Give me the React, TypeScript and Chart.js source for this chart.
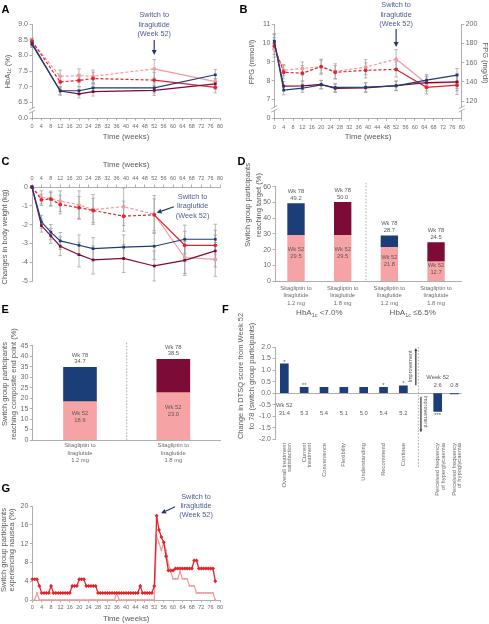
import React, { useEffect, useRef } from 'react';
import { Chart, registerables } from 'chart.js';

Chart.register(...registerables);

// ---------------- data ----------------
// A: HbA1c (%)
const weeksA = [0, 12, 20, 26, 52, 78];
const hbaLira12 = [8.35, 6.87, 6.87, 6.96, 6.96, 7.38];
const hbaLira18 = [8.38, 6.86, 6.77, 6.84, 6.88, 7.09];
const hbaSita12 = [8.45, 7.15, 7.2, 7.26, 7.21, 6.98];
const hbaSita18 = [8.43, 7.33, 7.35, 7.33, 7.57, 7.16];
const hbaErrLira12 = [0.1, 0.13, 0.13, 0.14, 0.16, 0.17];
const hbaErrLira18 = [0.1, 0.13, 0.13, 0.14, 0.16, 0.17];
const hbaErrSita12 = [0.1, 0.2, 0.2, 0.2, 0.25, 0.18];
const hbaErrSita18 = [0.1, 0.2, 0.22, 0.2, 0.3, 0.2];

// B: FPG (mmol/l)
const weeksB = [0, 4, 12, 20, 26, 39, 52, 65, 78];
const fpgLira12 = [10.1, 7.5, 7.6, 7.78, 7.64, 7.66, 7.72, 8.03, 8.3];
const fpgLira18 = [10.05, 7.71, 7.73, 7.8, 7.59, 7.62, 7.74, 7.9, 7.94];
const fpgSita12 = [9.85, 8.45, 8.4, 8.75, 8.45, 8.55, 8.6, 7.65, 7.76];
const fpgSita18 = [9.7, 8.56, 8.65, 8.74, 8.5, 8.72, 9.15, 7.85, 7.92];
const fpgErrLira12 = [0.4, 0.25, 0.22, 0.22, 0.22, 0.25, 0.25, 0.3, 0.35];
const fpgErrLira18 = [0.4, 0.25, 0.22, 0.22, 0.22, 0.25, 0.25, 0.3, 0.35];
const fpgErrSita12 = [0.45, 0.35, 0.4, 0.35, 0.35, 0.4, 0.4, 0.35, 0.5];
const fpgErrSita18 = [0.45, 0.3, 0.35, 0.4, 0.4, 0.4, 0.5, 0.4, 0.45];

// C: change in body weight (kg)
const weeksC = [0, 4, 8, 12, 20, 26, 39, 52, 65, 78];
const bwLira12 = [0, -1.85, -2.4, -2.87, -3.1, -3.28, -3.2, -3.15, -2.78, -2.78];
const bwLira18 = [0, -2.05, -2.6, -3.15, -3.6, -3.88, -3.8, -4.2, -3.9, -3.4];
const bwSita12 = [0, -0.68, -0.64, -0.93, -1.1, -1.25, -1.55, -1.48, -3.1, -3.1];
const bwSita18 = [0, -0.55, -0.62, -0.75, -0.95, -1.2, -1.05, -1.45, -3.75, -3.85];
const bwErrLira12 = [0, 0.35, 0.4, 0.45, 0.55, 0.6, 0.65, 0.7, 0.75, 0.8];
const bwErrLira18 = [0, 0.35, 0.4, 0.5, 0.65, 0.75, 0.75, 0.8, 0.8, 0.85];
const bwErrSita12 = [0, 0.3, 0.35, 0.5, 0.6, 0.65, 0.8, 0.85, 0.75, 0.8];
const bwErrSita18 = [0, 0.35, 0.4, 0.55, 0.75, 0.8, 1.0, 1.0, 0.85, 0.9];

// D: reaching HbA1c target (%)
const posD = [0, 1, 2, 3];
const catD = [
  ['Sitagliptin to', 'liraglutide', '1.2 mg'],
  ['Sitagliptin to', 'liraglutide', '1.8 mg'],
  ['Sitagliptin to', 'liraglutide', '1.2 mg'],
  ['Sitagliptin to', 'liraglutide', '1.8 mg'],
];
const wk52D = [29.5, 29.5, 21.8, 12.7];
const wk78D = [49.2, 50.0, 28.7, 24.5];
const groupD = ['<7.0%', '\u22646.5%'];

// E: composite end point (%)
const posE = [0, 1];
const catE = [
  ['Sitagliptin to', 'liraglutide', '1.2 mg'],
  ['Sitagliptin to', 'liraglutide', '1.8 mg'],
];
const wk52E = [18.6, 23.0];
const wk78E = [34.7, 38.5];

// F: DTSQ change
const posF = [1, 2, 3, 4, 5, 6, 7, 8.73, 9.57];
const catF = [
  ['Overall treatment', 'satisfaction'],
  ['Current', 'treatment'],
  'Convenience',
  'Flexibility',
  'Understanding',
  'Recommend',
  'Continue',
  ['Perceived frequency', 'of hyperglycaemia'],
  ['Perceived frequency', 'of hypoglycaemia'],
];
const dtsqF = [1.27, 0.25, 0.25, 0.25, 0.25, 0.25, 0.32, -0.79, -0.03];
const starsF = ['*', '**', '', '', '', '*', '*', '***', ''];
const wk52F = ['31.4', '5.3', '5.4', '5.1', '5.0', '5.4', '5.2', '2.6', '0.8'];

// G: nausea (%)
const weeksG = [
  0, 1, 2, 3, 4, 5, 6, 7, 8, 9, 10, 11, 12, 13, 14, 15, 16, 17, 18, 19,
  20, 21, 22, 23, 24, 25, 26, 27, 28, 29, 30, 31, 32, 33, 34, 35, 36, 37, 38, 39,
  40, 41, 42, 43, 44, 45, 46, 47, 48, 49, 50, 51, 52, 53, 54, 55, 56, 57, 58, 59,
  60, 61, 62, 63, 64, 65, 66, 67, 68, 69, 70, 71, 72, 73, 74, 75, 76, 77, 78,
];
const nauseaSita12 = [
  4.4, 4.4, 4.4, 3.0, 1.5, 1.5, 1.5, 1.5, 3.0, 1.5,
  1.5, 1.5, 1.5, 1.5, 1.5, 1.5, 1.5, 3.0, 3.0, 3.0,
  4.4, 4.4, 4.4, 3.0, 3.0, 3.0, 3.0, 3.0, 1.5, 1.5,
  1.5, 1.5, 1.5, 1.5, 1.5, 1.5, 1.5, 1.5, 1.5, 1.5,
  1.5, 1.5, 1.5, 1.5, 1.5, 1.5, 3.0, 1.5, 1.5, 1.5,
  1.5, 1.5, 3.0, 17.9, 14.9, 13.4, 12.3, 9.3, 6.3, 6.3,
  6.3, 6.7, 6.7, 6.7, 6.7, 6.7, 6.7, 6.7, 6.7, 8.4,
  8.4, 6.7, 6.7, 6.7, 6.7, 6.7, 6.7, 6.7, 4.0,
];
const nauseaSita18 = [
  0, 0, 1.5, 0, 0, 0, 0, 0, 0, 0,
  0, 0, 0, 0, 0, 0, 0, 0, 0, 0,
  0, 0, 0, 0, 0, 0, 0, 0, 0, 0,
  0, 0, 0, 0, 0, 0, 1.5, 0, 0, 0,
  0, 0, 0, 0, 0, 0, 0, 0, 0, 0,
  0, 0, 0, 13.6, 12.1, 10.6, 12.1, 10.6, 7.6, 6.1,
  4.5, 4.5, 4.5, 6.1, 4.5, 4.5, 4.5, 3.0, 3.0, 3.0,
  1.5, 1.5, 1.5, 1.5, 1.5, 1.5, 1.5, 1.5, 0,
];

const switchNote = ['Switch to', 'liraglutide', '(Week 52)'];

// ---------------- style ----------------
const FONT = '"Liberation Sans", Arial, Helvetica, sans-serif';
const NAVY = '#1b3e78';
const MAROON = '#7d0b37';
const RED = '#e2242d';
const PINK = '#f2999c';
const BARPINK = '#f5a3a5';
const AXIS = '#9b9b9b';
const TICK = '#6b6b6b';
const TITLE = '#5a5a5a';
const ANNOT = '#4e5c8e';
const ARROW = '#23396c';
const ERR = '#9a9a9a';

type Box = { left: number; top: number; w: number; h: number };
type Plot = { l: number; t: number; r: number; b: number };
type Seg = { t: string; sub?: boolean };

const boxA: Box = { left: 0, top: 0, w: 240, h: 146 };
const plotA: Plot = { l: 32, t: 24, r: 220, b: 118 };
const boxB: Box = { left: 245, top: 0, w: 244, h: 146 };
const plotB: Plot = { l: 274.3, t: 24.3, r: 461.7, b: 118.3 };
const boxC: Box = { left: 0, top: 152, w: 240, h: 136 };
const plotC: Plot = { l: 32, t: 187, r: 220, b: 281 };
const boxD: Box = { left: 232, top: 140, w: 257, h: 180 };
const plotD: Plot = { l: 275, t: 186.7, r: 461.7, b: 281 };
const boxE: Box = { left: 0, top: 318, w: 240, h: 152 };
const plotE: Plot = { l: 32.3, t: 345.7, r: 220, b: 440 };
const boxF: Box = { left: 232, top: 300, w: 257, h: 210 };
const plotF: Plot = { l: 275, t: 347, r: 461.7, b: 439.3 };
const boxG: Box = { left: 0, top: 488, w: 240, h: 136 };
const plotG: Plot = { l: 32.3, t: 506, r: 220, b: 600 };

function frame(box: Box, plot: Plot) {
  return {
    yW: plot.l - box.left,
    padTop: plot.t - box.top,
    padRight: box.left + box.w - plot.r,
    xH: box.top + box.h - plot.b,
    padBottom: box.top + box.h - plot.b,
  };
}

function drawText(
  ctx: CanvasRenderingContext2D,
  text: string | Seg[],
  x: number,
  y: number,
  o: { size: number; color: string; rot?: number; align?: 'left' | 'center' | 'right'; bold?: boolean; baseline?: CanvasTextBaseline }
) {
  const segs: Seg[] = typeof text === 'string' ? [{ t: text }] : text;
  ctx.save();
  ctx.translate(x, y);
  if (o.rot) ctx.rotate(o.rot);
  ctx.fillStyle = o.color;
  ctx.textBaseline = o.baseline ?? 'middle';
  ctx.textAlign = 'left';
  const fontOf = (s: Seg) => `${o.bold ? 'bold ' : ''}${s.sub ? o.size * 0.68 : o.size}px ${FONT}`;
  let total = 0;
  const widths = segs.map((s) => {
    ctx.font = fontOf(s);
    const w = ctx.measureText(s.t).width;
    total += w;
    return w;
  });
  let cx = o.align === 'left' ? 0 : o.align === 'right' ? -total : -total / 2;
  segs.forEach((s, i) => {
    ctx.font = fontOf(s);
    ctx.fillText(s.t, cx, s.sub ? o.size * 0.28 : 0);
    cx += widths[i];
  });
  ctx.restore();
}

// draw a rotated axis title given page coordinates
function pageTitle(ctx: CanvasRenderingContext2D, box: Box, text: string | Seg[], px: number, py: number, rot: number) {
  drawText(ctx, text, px - box.left, py - box.top, { size: 7.5, color: TITLE, rot });
}

function arrow(ctx: CanvasRenderingContext2D, x1: number, y1: number, x2: number, y2: number, color: string, hl = 5, hw = 2.5) {
  const a = Math.atan2(y2 - y1, x2 - x1);
  const c = Math.cos(a);
  const s = Math.sin(a);
  ctx.save();
  ctx.strokeStyle = color;
  ctx.fillStyle = color;
  ctx.lineWidth = 1.2;
  ctx.beginPath();
  ctx.moveTo(x1, y1);
  ctx.lineTo(x2 - hl * c, y2 - hl * s);
  ctx.stroke();
  ctx.beginPath();
  ctx.moveTo(x2, y2);
  ctx.lineTo(x2 - hl * c + hw * s, y2 - hl * s - hw * c);
  ctx.lineTo(x2 - hl * c - hw * s, y2 - hl * s + hw * c);
  ctx.closePath();
  ctx.fill();
  ctx.restore();
}

function drawBreak(ctx: CanvasRenderingContext2D, x: number, y: number) {
  ctx.save();
  ctx.fillStyle = '#ffffff';
  ctx.fillRect(x - 1.2, y - 1.6, 2.4, 3.2);
  ctx.strokeStyle = AXIS;
  ctx.lineWidth = 0.8;
  ctx.beginPath();
  ctx.moveTo(x - 3, y - 0.2);
  ctx.lineTo(x + 3, y - 3.2);
  ctx.moveTo(x - 3, y + 3.2);
  ctx.lineTo(x + 3, y + 0.2);
  ctx.stroke();
  ctx.restore();
}

function dashedV(ctx: CanvasRenderingContext2D, x: number, y1: number, y2: number) {
  ctx.save();
  ctx.setLineDash([1.6, 1.6]);
  ctx.strokeStyle = AXIS;
  ctx.lineWidth = 0.8;
  ctx.beginPath();
  ctx.moveTo(x, y1);
  ctx.lineTo(x, y2);
  ctx.stroke();
  ctx.restore();
}

function yScale(o: {
  min: number; max: number; step: number; width: number; fmt: (v: number) => string;
  position?: 'left' | 'right'; ticks?: number[]; grid?: any;
}) {
  return {
    type: 'linear',
    position: o.position ?? 'left',
    min: o.min,
    max: o.max,
    afterFit: (s: any) => { s.width = o.width; },
    afterBuildTicks: o.ticks ? (s: any) => { s.ticks = o.ticks!.map((v) => ({ value: v })); } : undefined,
    ticks: {
      stepSize: o.step, autoSkip: false, font: { family: FONT, size: 7 }, color: TICK, padding: 1.5,
      callback: (v: any) => o.fmt(Number(v)),
    },
    border: { display: true, color: AXIS, width: 0.8 },
    grid: o.grid ?? { display: true, drawOnChartArea: false, drawTicks: true, tickLength: 2.5, color: AXIS, lineWidth: 0.8 },
  };
}

function xWeeks(o: { height: number; position?: 'top' | 'bottom'; titlePad: number; padding?: number }) {
  const top = o.position === 'top';
  return {
    type: 'linear',
    position: o.position ?? 'bottom',
    min: 0,
    max: 80,
    offset: false,
    afterFit: (s: any) => { s.height = o.height; },
    ticks: {
      stepSize: 4, autoSkip: false, maxRotation: 0, minRotation: 0,
      font: { family: FONT, size: 5.5 }, color: TICK, padding: o.padding ?? 3,
    },
    border: { display: true, color: AXIS, width: 0.8 },
    grid: { display: true, drawOnChartArea: false, drawTicks: true, tickLength: 2.5, color: AXIS, lineWidth: 0.8 },
    title: {
      display: true, text: 'Time (weeks)', color: TITLE, font: { family: FONT, size: 7.8 },
      padding: top ? { top: o.titlePad, bottom: 0 } : { top: 0, bottom: o.titlePad },
    },
  };
}

function xCats(o: { height: number; min: number; max: number; pos: number[]; labels: any[]; size: number; lh: number; padding: number; rot?: number; border: boolean }) {
  return {
    type: 'linear',
    min: o.min,
    max: o.max,
    offset: false,
    afterFit: (s: any) => { s.height = o.height; },
    afterBuildTicks: (s: any) => { s.ticks = o.pos.map((v) => ({ value: v })); },
    ticks: {
      autoSkip: false, maxRotation: o.rot ?? 0, minRotation: o.rot ?? 0,
      font: { family: FONT, size: o.size, lineHeight: o.lh }, color: TICK, padding: o.padding,
      callback: (_v: any, i: number) => o.labels[i],
    },
    border: { display: o.border, color: AXIS, width: 0.8 },
    grid: { display: false, drawTicks: false, tickLength: 0 },
  };
}

function baseOptions(pad: any, scales: any) {
  return {
    responsive: false,
    animation: false,
    devicePixelRatio: 1,
    events: [],
    layout: { padding: pad },
    plugins: { legend: { display: false }, tooltip: { enabled: false }, title: { display: false } },
    scales,
  };
}

function lineDs(weeks: number[], vals: number[], color: string, style: string, dashed: boolean, radius = 1.9, width = 1.2) {
  return {
    data: weeks.map((x, i) => ({ x, y: vals[i] })),
    borderColor: color,
    backgroundColor: color,
    pointBackgroundColor: color,
    borderWidth: width,
    pointStyle: style,
    pointRadius: radius,
    pointBorderWidth: 0,
    tension: 0,
    clip: false,
    segment: dashed ? { borderDash: (c: any) => (c.p1.parsed.x <= 52 ? [3, 2] : undefined) } : undefined,
  };
}

const errorBars = (errs: number[][]) => ({
  id: 'errorBars',
  beforeDatasetsDraw(chart: any) {
    const ctx = chart.ctx;
    const ys = chart.scales.y;
    ctx.save();
    ctx.strokeStyle = ERR;
    ctx.lineWidth = 0.7;
    errs.forEach((arr, di) => {
      const meta = chart.getDatasetMeta(di);
      meta.data.forEach((pt: any, j: number) => {
        const e = arr[j];
        if (!e) return;
        const v = chart.data.datasets[di].data[j].y;
        const y1 = ys.getPixelForValue(v + e);
        const y2 = ys.getPixelForValue(v - e);
        ctx.beginPath();
        ctx.moveTo(pt.x, y1); ctx.lineTo(pt.x, y2);
        ctx.moveTo(pt.x - 1.8, y1); ctx.lineTo(pt.x + 1.8, y1);
        ctx.moveTo(pt.x - 1.8, y2); ctx.lineTo(pt.x + 1.8, y2);
        ctx.stroke();
      });
    });
    ctx.restore();
  },
});

const ROTL = -Math.PI / 2;
const ROTR = Math.PI / 2;

// ---------------- panels ----------------
function buildA() {
  const f = frame(boxA, plotA);
  return {
    type: 'line',
    data: {
      datasets: [
        lineDs(weeksA, hbaLira12, NAVY, 'rect', false),
        lineDs(weeksA, hbaLira18, MAROON, 'rect', false),
        lineDs(weeksA, hbaSita12, RED, 'circle', true),
        lineDs(weeksA, hbaSita18, PINK, 'circle', true),
      ],
    },
    options: baseOptions({ left: 0, top: f.padTop, right: f.padRight, bottom: 0 }, {
      x: xWeeks({ height: f.xH, titlePad: 4.3 }),
      y: yScale({ min: 6, max: 9, step: 0.5, width: f.yW, fmt: (v) => (v === 6 ? '0.0' : v.toFixed(1)) }),
    }),
    plugins: [
      errorBars([hbaErrLira12, hbaErrLira18, hbaErrSita12, hbaErrSita18]),
      {
        id: 'annA',
        afterDraw(chart: any) {
          const { ctx, chartArea } = chart;
          const x = chart.scales.x.getPixelForValue(52);
          const top = chartArea.top;
          switchNote.forEach((s, i) => drawText(ctx, s, x, top - 9 + i * 9.5, { size: 7.3, color: ANNOT }));
          arrow(ctx, x, top + 16, x, top + 31, ARROW);
          drawBreak(ctx, chartArea.left, chart.scales.y.getPixelForValue(6.25));
          pageTitle(ctx, boxA, [{ t: 'HbA' }, { t: '1c', sub: true }, { t: ' (%)' }], 7.5, 71.5, ROTL);
        },
      },
    ],
  };
}

function buildB() {
  const f = frame(boxB, plotB);
  return {
    type: 'line',
    data: {
      datasets: [
        lineDs(weeksB, fpgLira12, NAVY, 'rect', false),
        lineDs(weeksB, fpgLira18, MAROON, 'rect', false),
        lineDs(weeksB, fpgSita12, RED, 'circle', true),
        lineDs(weeksB, fpgSita18, PINK, 'circle', true),
      ],
    },
    options: baseOptions({ left: 0, top: f.padTop, right: 0, bottom: 0 }, {
      x: xWeeks({ height: f.xH, titlePad: 4.3 }),
      y: yScale({ min: 6, max: 11, step: 1, width: f.yW, fmt: (v) => (v === 6 ? '0' : String(v)) }),
      y2: yScale({ min: 102, max: 200, step: 20, width: f.padRight, position: 'right', ticks: [120, 140, 160, 180, 200], fmt: (v) => String(v) }),
    }),
    plugins: [
      errorBars([fpgErrLira12, fpgErrLira18, fpgErrSita12, fpgErrSita18]),
      {
        id: 'annB',
        afterDraw(chart: any) {
          const { ctx, chartArea } = chart;
          const x = chart.scales.x.getPixelForValue(52);
          const top = chartArea.top;
          switchNote.forEach((s, i) => drawText(ctx, s, x, top - 19.3 + i * 9.5, { size: 7.3, color: ANNOT }));
          arrow(ctx, x, top + 4.7, x, top + 22.7, ARROW);
          const yb = chart.scales.y.getPixelForValue(6.5);
          drawBreak(ctx, chartArea.left, yb);
          drawBreak(ctx, chartArea.right, yb);
          pageTitle(ctx, boxB, 'FPG (mmol/l)', 252, 62, ROTL);
          pageTitle(ctx, boxB, 'FPG (mg/dl)', 485.5, 63, ROTR);
        },
      },
    ],
  };
}

function buildC() {
  const f = frame(boxC, plotC);
  return {
    type: 'line',
    data: {
      datasets: [
        lineDs(weeksC, bwLira12, NAVY, 'rect', false),
        lineDs(weeksC, bwLira18, MAROON, 'rect', false),
        lineDs(weeksC, bwSita12, RED, 'circle', true),
        lineDs(weeksC, bwSita18, PINK, 'circle', true),
      ],
    },
    options: baseOptions({ left: 0, top: 0, right: f.padRight, bottom: f.padBottom }, {
      x: xWeeks({ height: f.padTop, position: 'top', titlePad: 8.3 }),
      y: yScale({ min: -5, max: 0, step: 1, width: f.yW, fmt: (v) => String(v) }),
    }),
    plugins: [
      errorBars([bwErrLira12, bwErrLira18, bwErrSita12, bwErrSita18]),
      {
        id: 'annC',
        afterDraw(chart: any) {
          const { ctx, chartArea } = chart;
          const x = chart.scales.x.getPixelForValue(52);
          const top = chartArea.top;
          switchNote.forEach((s, i) => drawText(ctx, s, x + 38.4, top + 9.7 + i * 9.6, { size: 7.3, color: ANNOT }));
          arrow(ctx, x + 19.7, top + 19.7, x + 2.4, top + 25.7, ARROW);
          pageTitle(ctx, boxC, 'Changes in body weight (kg)', 4.5, 237, ROTL);
        },
      },
    ],
  };
}

function barTexts(ctx: CanvasRenderingContext2D, chart: any, pos: number[], lo: number[], hi: number[]) {
  const xs = chart.scales.x;
  const ys = chart.scales.y;
  const base = ys.getPixelForValue(0);
  pos.forEach((p, i) => {
    const px = xs.getPixelForValue(p);
    const top = ys.getPixelForValue(hi[i]);
    drawText(ctx, 'Wk 78', px, top - 12.2, { size: 5.8, color: TITLE });
    drawText(ctx, hi[i].toFixed(1), px, top - 5.5, { size: 5.8, color: TITLE });
    const t52 = ys.getPixelForValue(lo[i]);
    const c = t52 + 0.4 * (base - t52);
    drawText(ctx, 'Wk 52', px, c - 3.5, { size: 5.8, color: TITLE });
    drawText(ctx, lo[i].toFixed(1), px, c + 3.5, { size: 5.8, color: TITLE });
  });
}

function buildD() {
  const f = frame(boxD, plotD);
  const topColors = [NAVY, MAROON, NAVY, MAROON];
  return {
    type: 'bar',
    data: {
      datasets: [
        { data: posD.map((x, i) => ({ x, y: [wk52D[i], wk78D[i]] })), backgroundColor: topColors, barThickness: 16.7, grouped: false, borderWidth: 0 },
        { data: posD.map((x, i) => ({ x, y: wk52D[i] })), backgroundColor: BARPINK, barThickness: 16.7, grouped: false, borderWidth: 0 },
      ],
    },
    options: baseOptions({ left: 0, top: f.padTop, right: f.padRight, bottom: 0 }, {
      x: xCats({ height: f.xH, min: -0.45, max: 3.55, pos: posD, labels: catD, size: 5.8, lh: 1.3, padding: 3.5, border: true }),
      y: yScale({ min: 0, max: 60, step: 10, width: f.yW, fmt: (v) => String(v) }),
    }),
    plugins: [
      {
        id: 'annD',
        afterDraw(chart: any) {
          const { ctx, chartArea } = chart;
          const xs = chart.scales.x;
          dashedV(ctx, xs.getPixelForValue(1.5), chartArea.top - 4, chartArea.bottom);
          barTexts(ctx, chart, posD, wk52D, wk78D);
          [0.5, 2.5].forEach((g, i) =>
            drawText(ctx, [{ t: 'HbA' }, { t: '1c', sub: true }, { t: ' ' + groupD[i] }], xs.getPixelForValue(g), chartArea.bottom + 32, { size: 8, color: TITLE })
          );
          pageTitle(ctx, boxD, 'Switch group participants', 247.5, 205, ROTL);
          pageTitle(ctx, boxD, 'reaching target (%)', 258.5, 205, ROTL);
        },
      },
    ],
  };
}

function buildE() {
  const f = frame(boxE, plotE);
  const topColors = [NAVY, MAROON];
  return {
    type: 'bar',
    data: {
      datasets: [
        { data: posE.map((x, i) => ({ x, y: [wk52E[i], wk78E[i]] })), backgroundColor: topColors, barThickness: 33, grouped: false, borderWidth: 0 },
        { data: posE.map((x, i) => ({ x, y: wk52E[i] })), backgroundColor: BARPINK, barThickness: 33, grouped: false, borderWidth: 0 },
      ],
    },
    options: baseOptions({ left: 0, top: f.padTop, right: f.padRight, bottom: 0 }, {
      x: xCats({ height: f.xH, min: -0.511, max: 1.5, pos: posE, labels: catE, size: 5.8, lh: 1.3, padding: 2, border: true }),
      y: yScale({ min: 0, max: 45, step: 5, width: f.yW, fmt: (v) => String(v) }),
    }),
    plugins: [
      {
        id: 'annE',
        afterDraw(chart: any) {
          const { ctx, chartArea } = chart;
          dashedV(ctx, chart.scales.x.getPixelForValue(0.5), chartArea.top - 3, chartArea.bottom);
          barTexts(ctx, chart, posE, wk52E, wk78E);
          pageTitle(ctx, boxE, 'Switch group participants', 4.5, 384, ROTL);
          pageTitle(ctx, boxE, 'reaching composite end point (%)', 13.5, 384, ROTL);
        },
      },
    ],
  };
}

function buildF() {
  const f = frame(boxF, plotF);
  const sepF = 7.76;
  return {
    type: 'bar',
    data: {
      datasets: [
        { data: posF.map((x, i) => ({ x, y: dtsqF[i] })), backgroundColor: NAVY, barThickness: 8, borderWidth: 0 },
      ],
    },
    options: baseOptions({ left: 0, top: f.padTop, right: f.padRight, bottom: 0 }, {
      x: xCats({ height: f.xH, min: 0.53, max: 9.94, pos: posF, labels: catF, size: 5.8, lh: 0.95, padding: 3.7, rot: 90, border: false }),
      y: yScale({
        min: -2, max: 2, step: 0.5, width: f.yW, fmt: (v) => v.toFixed(1),
        grid: {
          display: true, drawOnChartArea: true, drawTicks: true, tickLength: 2.5, lineWidth: 0.8, tickColor: AXIS,
          color: (c: any) => (c.tick && c.tick.value === 0 ? AXIS : 'rgba(0,0,0,0)'),
        },
      }),
    }),
    plugins: [
      {
        id: 'annF',
        afterDraw(chart: any) {
          const { ctx, chartArea } = chart;
          const xs = chart.scales.x;
          const ys = chart.scales.y;
          const zero = ys.getPixelForValue(0);
          const sep = xs.getPixelForValue(sepF);
          dashedV(ctx, sep, chartArea.top, chartArea.bottom + 28);
          posF.forEach((p, i) => {
            const px = xs.getPixelForValue(p);
            const v = dtsqF[i];
            const end = ys.getPixelForValue(v);
            if (starsF[i]) drawText(ctx, starsF[i], px, v >= 0 ? end - 0.3 : end + 5.5, { size: 6, color: TITLE, baseline: 'alphabetic' });
            drawText(ctx, wk52F[i], px, i < 7 ? zero + 20.6 : zero - 7.7, { size: 5.8, color: TITLE });
          });
          drawText(ctx, 'Wk 52', xs.getPixelForValue(posF[0]), zero + 12.3, { size: 5.8, color: TITLE });
          drawText(ctx, 'Week 52', xs.getPixelForValue(posF[7]), zero - 16, { size: 5.8, color: TITLE });
          arrow(ctx, sep - 2.6, zero - 8, sep - 2.6, chartArea.top + 1, '#333333', 3, 1.5);
          drawText(ctx, 'Improvement', sep - 7.6, zero - 26.7, { size: 5.5, color: TITLE, rot: ROTL });
          arrow(ctx, sep + 2.5, zero + 3.5, sep + 2.5, zero + 39, '#333333', 3, 1.5);
          drawText(ctx, 'Improvement', sep + 6.8, zero + 18.3, { size: 5.5, color: TITLE, rot: ROTR });
          pageTitle(ctx, boxF, 'Change in DTSQ score from Week 52', 240.7, 376, ROTL);
          pageTitle(ctx, boxF, 'to 78 (switch group participants)', 251.7, 376, ROTL);
        },
      },
    ],
  };
}

function buildG() {
  const f = frame(boxG, plotG);
  return {
    type: 'line',
    data: {
      datasets: [
        lineDs(weeksG, nauseaSita12, RED, 'rectRot', false, 2, 1.3),
        lineDs(weeksG, nauseaSita18, PINK, 'rectRot', false, 1.2, 1.2),
      ],
    },
    options: baseOptions({ left: 0, top: f.padTop, right: f.padRight, bottom: 0 }, {
      x: xWeeks({ height: f.xH, titlePad: 0, padding: 1.2 }),
      y: yScale({ min: 0, max: 20, step: 4, width: f.yW, fmt: (v) => String(v) }),
    }),
    plugins: [
      {
        id: 'annG',
        afterDraw(chart: any) {
          const { ctx, chartArea } = chart;
          const px = chart.scales.x.getPixelForValue(53);
          const top = chartArea.top;
          switchNote.forEach((s, i) => drawText(ctx, s, px + 39.4, top - 9.3 + i * 9.2, { size: 7.3, color: ANNOT }));
          arrow(ctx, px + 18.4, top + 0.7, px + 4.4, top + 7.3, ARROW);
          pageTitle(ctx, boxG, 'Switch group participants', 4.2, 550, ROTL);
          pageTitle(ctx, boxG, 'experiencing nausea (%)', 12.4, 550, ROTL);
        },
      },
    ],
  };
}

function ChartPanel({ box, build }: { box: Box; build: () => any }) {
  const ref = useRef<HTMLCanvasElement>(null);
  useEffect(() => {
    const chart = new Chart(ref.current as HTMLCanvasElement, build());
    return () => chart.destroy();
  }, []);
  return (
    <canvas
      ref={ref}
      width={box.w}
      height={box.h}
      style={{ position: 'absolute', left: box.left, top: box.top, width: box.w, height: box.h }}
    />
  );
}

const letters = [
  { t: 'A', x: 1.5, y: 5 },
  { t: 'B', x: 239.5, y: 5 },
  { t: 'C', x: 1.5, y: 157 },
  { t: 'D', x: 237.5, y: 157 },
  { t: 'E', x: 1.5, y: 305 },
  { t: 'F', x: 222, y: 305 },
  { t: 'G', x: 1.5, y: 484 },
];

export default function App() {
  return (
    <div style={{ position: 'absolute', left: 0, top: 0, width: 489, height: 624, background: '#fff', overflow: 'hidden' }}>
      <ChartPanel box={boxA} build={buildA} />
      <ChartPanel box={boxB} build={buildB} />
      <ChartPanel box={boxC} build={buildC} />
      <ChartPanel box={boxD} build={buildD} />
      <ChartPanel box={boxE} build={buildE} />
      <ChartPanel box={boxF} build={buildF} />
      <ChartPanel box={boxG} build={buildG} />
      {letters.map((l) => (
        <div
          key={l.t}
          style={{
            position: 'absolute', left: l.x, top: l.y - 1.4, fontFamily: FONT, fontWeight: 'bold',
            fontSize: 11, lineHeight: '11px', color: '#000',
          }}
        >
          {l.t}
        </div>
      ))}
    </div>
  );
}
